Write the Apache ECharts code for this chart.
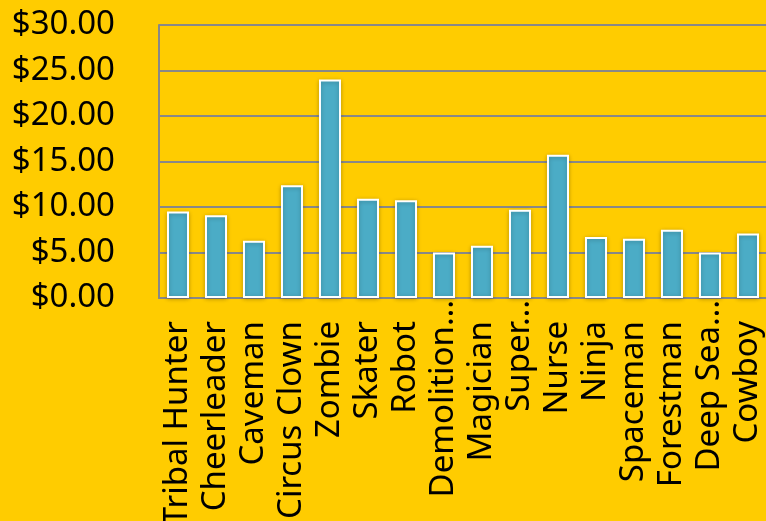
<!DOCTYPE html>
<html>
<head>
<meta charset="utf-8">
<script src="https://cdn.jsdelivr.net/npm/echarts@6/dist/echarts.min.js"></script>
<style>
html,body{margin:0;padding:0;background:#FFCC00;}
#c{width:766px;height:521px;}
</style>
</head>
<body>
<div id="c"></div>
<script>
var categories = ["Tribal Hunter","Cheerleader","Caveman","Circus Clown","Zombie","Skater","Robot","Demolition…","Magician","Super…","Nurse","Ninja","Spaceman","Forestman","Deep Sea…","Cowboy"];
var prices = [9.50, 9.10, 6.30, 12.40, 24.00, 10.90, 10.75, 5.00, 5.75, 9.70, 15.75, 6.70, 6.50, 7.50, 5.00, 7.10];
var yTicks = {min: 0, max: 30, interval: 5};

var chart = echarts.init(document.getElementById('c'));
var font = "'Noto Sans', sans-serif";
chart.setOption({
  backgroundColor: '#FFCC00',
  animation: false,
  grid: {left: 159, top: 25, width: 608, height: 273, containLabel: false, outerBoundsMode: 'none'},
  xAxis: {
    type: 'category',
    data: categories,
    axisLine: {show: true, lineStyle: {color: '#888888', width: 2}},
    axisTick: {show: false},
    axisLabel: {
      interval: 0,
      rotate: 90,
      margin: 2,
      color: '#000',
      fontFamily: font,
      fontSize: 33,
      formatter: function (v) {
        return v.endsWith('…') ? '{e|' + v + '}' : '{n|' + v + '}';
      },
      rich: {
        n: {fontFamily: font, fontSize: 33, color: '#000', padding: [0, 21, 0, 0]},
        e: {fontFamily: font, fontSize: 33, color: '#000'}
      }
    }
  },
  yAxis: {
    type: 'value',
    min: yTicks.min,
    max: yTicks.max,
    interval: yTicks.interval,
    axisLine: {show: true, lineStyle: {color: '#888888', width: 2}},
    axisTick: {show: false},
    splitLine: {show: true, lineStyle: {color: '#888888', width: 2}},
    axisLabel: {
      margin: 44,
      color: '#000',
      fontFamily: font,
      fontSize: 33,
      formatter: function (v) { return '$' + v.toFixed(2); }
    }
  },
  series: [{
    type: 'bar',
    data: prices,
    barCategoryGap: '42%',
    itemStyle: {
      color: '#4BACC6',
      borderColor: '#FFFFFF',
      borderWidth: 2,
      shadowBlur: 4,
      shadowColor: 'rgba(0,0,0,0.25)',
      shadowOffsetY: 1
    }
  }]
});
</script>
</body>
</html>
